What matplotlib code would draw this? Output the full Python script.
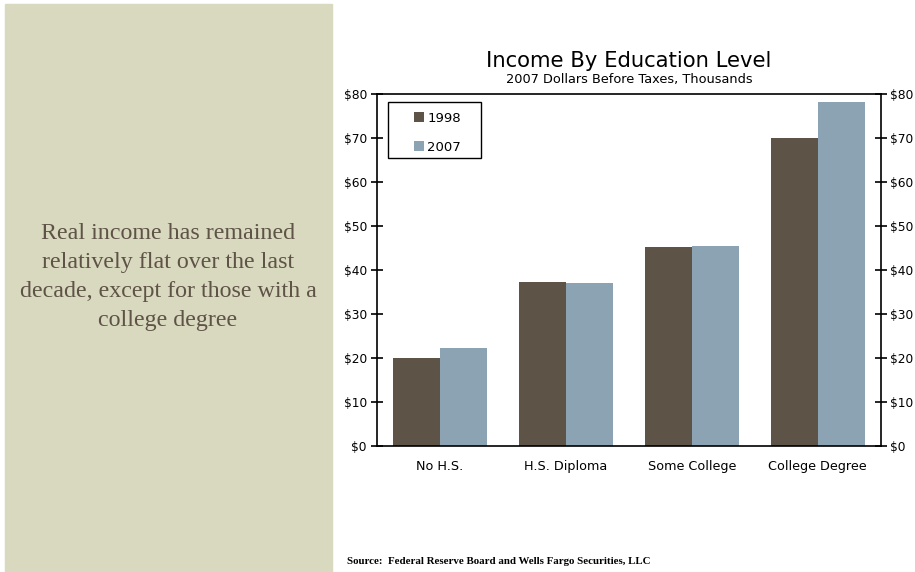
import numpy as np
import matplotlib.pyplot as plt
from matplotlib.patches import Rectangle
from matplotlib.ticker import FuncFormatter

categories = ['No H.S.', 'H.S. Diploma', 'Some College', 'College Degree']
income_1998 = [20.0, 37.4, 45.2, 70.0]
income_2007 = [22.3, 37.0, 45.6, 78.2]
series_names = ['1998', '2007']

c1998 = '#5e5347'
c2007 = '#8ba3b2'

fig = plt.figure(figsize=(9.15, 5.72), dpi=100)

# left commentary panel
fig.patches.append(Rectangle((5 / 915, 0), 327 / 915, 1 - 4 / 572,
                             transform=fig.transFigure, color='#d9d9bf', zorder=0))
fig.text(168 / 915, 1 - 277 / 572,
         'Real income has remained\nrelatively flat over the last\ndecade, except for those with a\ncollege degree',
         ha='center', va='center', family='Liberation Serif', fontsize=17.3,
         color='#5e5346', linespacing=1.48)

ax = fig.add_axes([0.4117, 0.2203, 0.9625 - 0.4117, 0.8351 - 0.2203])
x = np.arange(len(categories))
w = 0.373
ax.bar(x - w / 2, income_1998, w, color=c1998, label=series_names[0])
ax.bar(x + w / 2, income_2007, w, color=c2007, label=series_names[1])

ax.set_xlim(-0.5, 3.5)
ax.set_ylim(0, 80)
ax.set_yticks(np.arange(0, 81, 10))
ax.yaxis.set_major_formatter(FuncFormatter(lambda v, p: '$%d' % v))
ax.set_xticks(x)
ax.set_xticklabels(categories, fontsize=9.2)
ax.tick_params(axis='x', length=0, pad=10)
ax.tick_params(axis='y', direction='inout', length=8, width=1.2, labelsize=8.8,
               right=True, labelright=True, pad=3)
for s in ax.spines.values():
    s.set_linewidth(1.2)

# legend box drawn separately so its padding can be set freely
ax.add_patch(Rectangle((0.0224, 0.819), 0.1846, 0.159, transform=ax.transAxes,
                       fill=False, edgecolor='black', linewidth=1.0, zorder=5))
ax.legend(loc='upper left', bbox_to_anchor=(0.060, 0.969), fontsize=9.5,
          frameon=False, borderpad=0, handlelength=0.8, handleheight=0.8,
          labelspacing=1.2, handletextpad=0.25)

fig.text(629 / 915, 1 - 61 / 572, 'Income By Education Level', ha='center',
         va='center', fontsize=15.2)
fig.text(629 / 915, 1 - 80 / 572, '2007 Dollars Before Taxes, Thousands',
         ha='center', va='center', fontsize=9.3)
fig.text(347 / 915, 1 - 561 / 572,
         'Source:  Federal Reserve Board and Wells Fargo Securities, LLC',
         ha='left', va='center', family='Liberation Serif', fontsize=7.8,
         fontweight='bold')

fig.savefig('out.png', dpi=100)
